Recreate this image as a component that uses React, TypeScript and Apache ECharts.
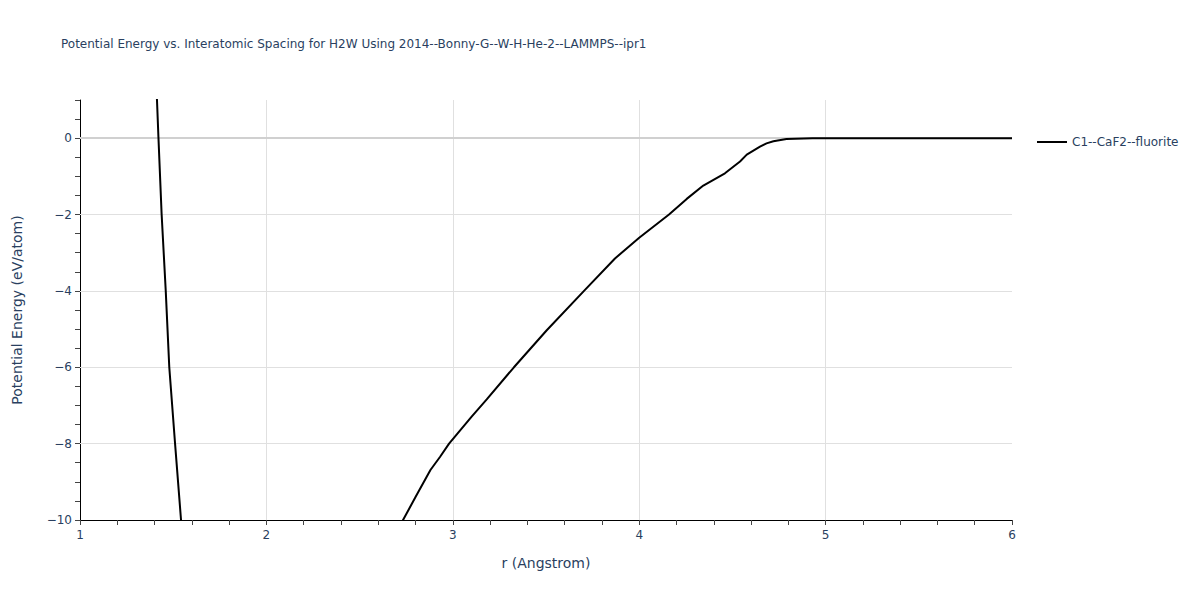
import React, { useEffect, useRef } from "react";
import * as echarts from "echarts";

const TITLE = "Potential Energy vs. Interatomic Spacing for H2W Using 2014--Bonny-G--W-H-He-2--LAMMPS--ipr1";
const SERIES_NAME = "C1--CaF2--fluorite";
const X_NAME = "r (Angstrom)";
const Y_NAME = "Potential Energy (eV/atom)";

// r (Angstrom)
const rValues = [
  1.405, 1.413, 1.421, 1.438, 1.46, 1.479, 1.51, 1.542, 1.555,
  2.70, 2.733, 2.80, 2.88, 2.931, 2.98, 3.10, 3.182, 3.328, 3.504, 3.704,
  3.87, 4.0, 4.16, 4.255, 4.344, 4.46, 4.541, 4.577, 4.648, 4.683, 4.72,
  4.79, 4.93, 5.2, 5.6, 6.0,
];
// energy (eV/atom)
const eValues = [
  2.0, 1.0, 0.0, -2.0, -4.0, -6.0, -8.0, -10.0, -11.0,
  -10.3, -10.0, -9.4, -8.69, -8.35, -8.0, -7.3, -6.84, -6.0, -5.03, -4.0,
  -3.15, -2.61, -2.0, -1.59, -1.24, -0.92, -0.61, -0.43, -0.22, -0.135, -0.08,
  -0.02, 0.0, 0.0, 0.0, 0.0,
];

const xLabels = [1, 2, 3, 4, 5, 6];
const xTicks = [
  1, 1.2, 1.4, 1.6, 1.8, 2, 2.2, 2.4, 2.6, 2.8, 3, 3.2, 3.4, 3.6, 3.8, 4,
  4.2, 4.4, 4.6, 4.8, 5, 5.2, 5.4, 5.6, 5.8, 6,
];
const yLabels = [-10, -8, -6, -4, -2, 0];
const yTicks = [
  -10, -9.5, -9, -8.5, -8, -7.5, -7, -6.5, -6, -5.5, -5, -4.5, -4, -3.5, -3,
  -2.5, -2, -1.5, -1, -0.5, 0, 0.5, 1,
];
const yGrid = [-8, -6, -4, -2];
const xGrid = [2, 3, 4, 5];

const FONT = "DejaVu Sans";
const TXT = "#2a3f5f";

export default function App() {
  const ref = useRef<HTMLDivElement>(null);
  useEffect(() => {
    if (!ref.current) return;
    const chart = echarts.init(ref.current, null, { renderer: "svg" });
    const data = rValues.map((r, i) => [r, eValues[i]]);
    chart.setOption({
      animation: false,
      backgroundColor: "#ffffff",
      textStyle: { fontFamily: FONT },
      title: {
        text: TITLE,
        left: 56,
        top: 33,
        textStyle: { fontFamily: FONT, fontSize: 12, fontWeight: "normal", color: TXT },
      },
      legend: {
        data: [{ name: SERIES_NAME, icon: "rect" }],
        left: 1032,
        top: 131,
        itemWidth: 30,
        itemHeight: 2,
        itemGap: 6,
        textStyle: { fontFamily: FONT, fontSize: 12, color: TXT },
      },
      grid: { left: 80, right: 188, top: 100, bottom: 80, containLabel: false },
      xAxis: {
        type: "value",
        min: 1,
        max: 6,
        interval: 1,
        name: X_NAME,
        nameLocation: "middle",
        nameGap: 36,
        nameTextStyle: { fontFamily: FONT, fontSize: 14, color: TXT },
        axisLine: { show: true, onZero: false, lineStyle: { color: "#000", width: 1 } },
        axisTick: { show: true, customValues: xTicks, length: 5, lineStyle: { color: "#444" } },
        axisLabel: { customValues: xLabels, fontFamily: FONT, fontSize: 12, color: TXT, margin: 9 },
        splitLine: { show: false },
      },
      yAxis: {
        type: "value",
        min: -10,
        max: 1,
        interval: 2,
        name: Y_NAME,
        nameLocation: "middle",
        nameGap: 56,
        nameTextStyle: { fontFamily: FONT, fontSize: 14, color: TXT },
        axisLine: { show: true, onZero: false, lineStyle: { color: "#000", width: 1 } },
        axisTick: { show: true, customValues: yTicks, length: 5, lineStyle: { color: "#444" } },
        axisLabel: {
          customValues: yLabels,
          fontFamily: FONT,
          fontSize: 12,
          color: TXT,
          margin: 8,
          formatter: (v: number) => String(v).replace("-", "\u2212"),
        },
        splitLine: { show: false },
      },
      series: [
        {
          name: "grid",
          type: "line",
          data: [],
          silent: true,
          z: 1,
          markLine: {
            silent: true,
            symbol: "none",
            label: { show: false },
            animation: false,
            data: [
              ...yGrid.map((y) => ({ yAxis: y, lineStyle: { color: "#e0e0e0", width: 1, type: "solid" } })),
              ...xGrid.map((x) => ({ xAxis: x, lineStyle: { color: "#e0e0e0", width: 1, type: "solid" } })),
              { yAxis: 0, lineStyle: { color: "#d0d0d0", width: 2, type: "solid" } },
            ],
          },
        },
        {
          name: SERIES_NAME,
          type: "line",
          data,
          showSymbol: false,
          symbol: "none",
          clip: true,
          z: 5,
          lineStyle: { color: "#000000", width: 2 },
          itemStyle: { color: "#000000" },
        },
      ],
    });
    return () => chart.dispose();
  }, []);
  return <div ref={ref} style={{ width: 1200, height: 600, margin: -8 }} />;
}
